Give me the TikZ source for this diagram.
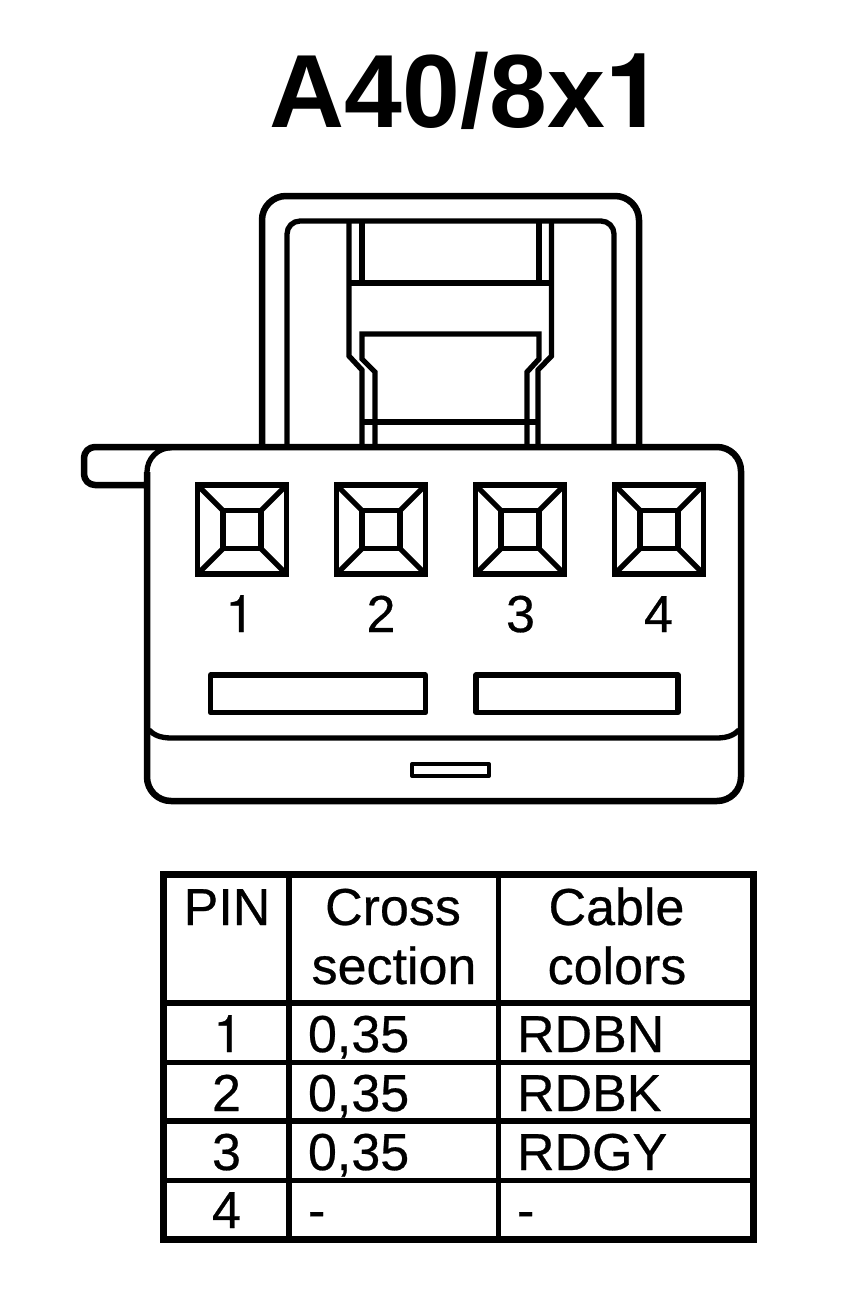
\documentclass[tikz,border=0pt]{standalone}
\usepackage{fontspec}
\setmainfont{Liberation Sans}
\newfontfamily\heavyfont{Liberation Sans}[BoldFont={Liberation Sans},BoldFeatures={FakeBold=0.5}]
\newfontfamily\onefont{TeX Gyre Heros}[BoldFont={TeX Gyre Heros},BoldFeatures={FakeBold=0.5}]
\newfontfamily\onebold{TeX Gyre Heros Bold}
\newcommand{\txtsize}{\fontsize{52}{52}\heavyfont\bfseries\selectfont}
\newcommand{\onedigit}{{\onefont\bfseries 1}}
\tikzset{
  every picture/.style={x=1pt,y=-1pt},
  ln/.style={draw=black,line width=5.3pt,line cap=butt,line join=miter},
  heavy/.style={draw=black,line width=6.5pt,line cap=butt,line join=round},
  txt/.style={inner sep=0pt,outer sep=0pt,text=black,font=\txtsize},
  ttl/.style={inner sep=0pt,outer sep=0pt,text=black,font=\fontsize{104}{104}\selectfont\bfseries},
}
\begin{document}
\begin{tikzpicture}
\useasboundingbox[fill=white] (0,0) rectangle (864,1298);
\node[ttl,anchor=base] (title) at (466.5,127.7) {A40/8x{\onebold 1}};

% latch frame
\draw[line width=6.5pt,rounded corners=24pt] (262,447) -- (262,196) -- (639,196) -- (639,447);
\draw[ln,rounded corners=13pt] (287,447) -- (287,221) -- (614,221) -- (614,447);
\draw[ln] (362,221) -- (362,283);
\draw[ln] (539,221) -- (539,283);
\draw[ln] (349,283) -- (551.5,283);
\draw[ln] (349,221) -- (349,356) -- (362,370) -- (362,447);
\draw[ln] (551.5,221) -- (551.5,356) -- (538,370) -- (538,447);
\draw[ln] (375,447) -- (375,372) -- (362,359) -- (362,334) -- (539,334) -- (539,359) -- (527,372) -- (527,447);
\draw[ln] (362,422) -- (538,422);

% body
\draw[ln] (149,730) .. controls (154,735) and (160,738) .. (172,738) -- (716,738) .. controls (728,738) and (734,735) .. (739,730);
\draw[ln] (147,472) arc[start angle=180,end angle=270,radius=24.3];
\draw[heavy] (147,485) -- (95,485) arc[start angle=90,end angle=180,radius=11] -- (84,458) arc[start angle=180,end angle=270,radius=11] -- (717,447)
  arc[start angle=-90,end angle=0,radius=24] -- (741,777)
  arc[start angle=0,end angle=90,radius=24] -- (171,801)
  arc[start angle=90,end angle=180,radius=24] -- (147,472);

% cavities
\foreach \n/\x/\t/\lab in {1/197.5/240/\onedigit,2/336.5/381/2,3/475.5/520.5/3,4/614.5/658.5/4}{
  \draw[ln] (\x,485) rectangle ++(89,89);
  \draw[ln] (\x+25.5,510.5) rectangle ++(38,38);
  \draw[ln] (\x,485) -- ++(25.5,25.5);
  \draw[ln] (\x+89,485) -- ++(-25.5,25.5);
  \draw[ln] (\x,574) -- ++(25.5,-25.5);
  \draw[ln] (\x+89,574) -- ++(-25.5,-25.5);
  \node[txt,anchor=base] (pin\n) at (\t,632) {\lab};
}
\draw[ln,line join=round] (210.5,675) rectangle (425.5,712.5);
\draw[ln,line join=round] (476,675) rectangle (678,712.5);
\draw[draw=black,line width=4pt,line join=round] (412,764) rectangle (489,776);

% table
\draw[draw=black,line width=7pt] (163.5,874.5) rectangle (753.5,1239.5);
\draw[draw=black,line width=6pt] (289,874.5) -- (289,1239.5);
\draw[ln] (498.5,874.5) -- (498.5,1239.5);
\draw[draw=black,line width=6pt] (163.5,1003) -- (753.5,1003);
\draw[ln] (163.5,1062.5) -- (753.5,1062.5);
\draw[draw=black,line width=6pt] (163.5,1121) -- (753.5,1121);
\draw[ln] (163.5,1180.5) -- (753.5,1180.5);

\node[txt,anchor=base] (hpin) at (227,925) {PIN};
\node[txt,anchor=base] (hcross) at (393,925) {Cross};
\node[txt,anchor=base] (hsection) at (394,984) {section};
\node[txt,anchor=base] (hcable) at (616.5,925) {Cable};
\node[txt,anchor=base] (hcolors) at (617,984) {colors};

\node[txt,anchor=base] (r1) at (228,1052) {\onedigit};
\node[txt,anchor=base] (r2) at (226.5,1111) {2};
\node[txt,anchor=base] (r3) at (226.5,1170) {3};
\node[txt,anchor=base] (r4) at (226.5,1228) {4};

\node[txt,anchor=base west] (c1) at (308,1052) {0,35};
\node[txt,anchor=base west] (c2) at (308,1111) {0,35};
\node[txt,anchor=base west] (c3) at (308,1170) {0,35};
\node[txt,anchor=base west] (c4) at (308,1228) {-};

\node[txt,anchor=base west] (k1) at (517,1052) {RDBN};
\node[txt,anchor=base west] (k2) at (517,1111) {RDBK};
\node[txt,anchor=base west] (k3) at (517,1170) {RDGY};
\node[txt,anchor=base west] (k4) at (517,1228) {-};
\end{tikzpicture}
\end{document}
